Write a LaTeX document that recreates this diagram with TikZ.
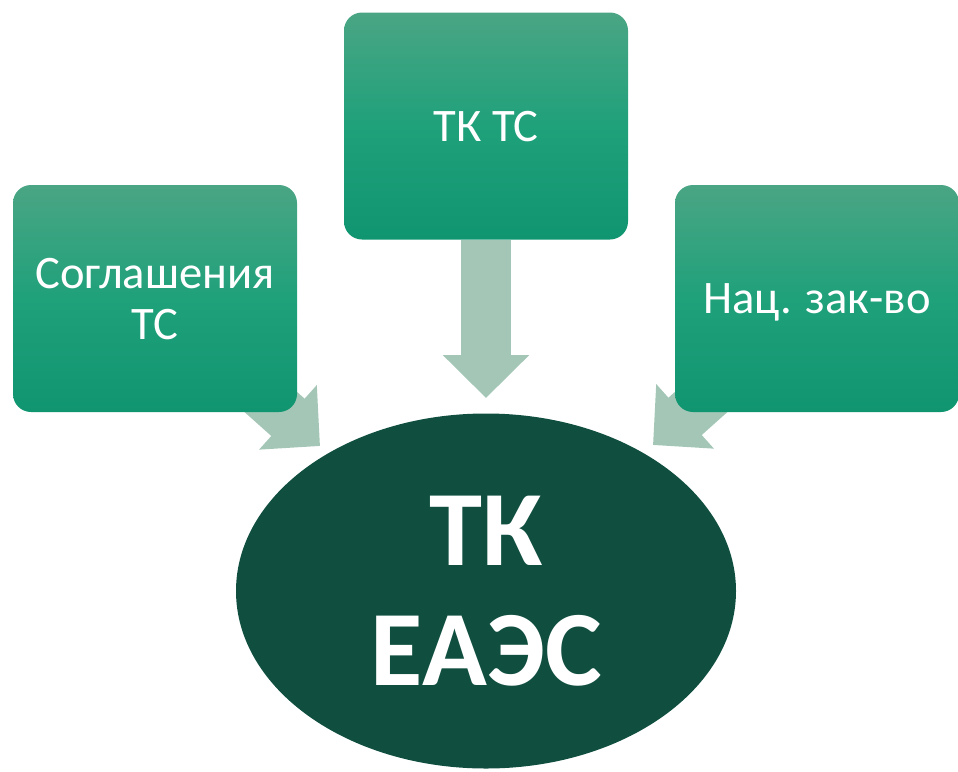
\documentclass[tikz,border=0pt]{standalone}
\usepackage{fontspec}
\setmainfont{Carlito}
\usetikzlibrary{shapes.geometric,arrows.meta,backgrounds}
\definecolor{boxtop}{RGB}{74,165,132}
\definecolor{boxmid}{RGB}{31,161,122}
\definecolor{boxbot}{RGB}{16,149,113}
\definecolor{eaesgreen}{RGB}{16,79,63}
\definecolor{arrowgreen}{RGB}{163,198,182}
\begin{document}
\begin{tikzpicture}[x=0.5pt,y=-0.5pt,
 srcbox/.style={rectangle,rounded corners=9pt,minimum width=142pt,minimum height=113.5pt,
  inner sep=0pt,text depth=0pt,top color=boxtop,bottom color=boxbot,middle color=boxmid,
  text=white,align=center,font=\fontsize{23.3}{25.5}\selectfont},
 blockarrow/.style={line width=25pt,draw=arrowgreen,-{Triangle[width=42pt,length=21.5pt]}}]
 \useasboundingbox (0,0) rectangle (958,771);
 \node[srcbox] (sogl) at (155,298.5) {Соглашения\\ТС};
 \node[srcbox] (tktc) at (486,126) {ТК ТС};
 \node[srcbox] (nats) at (817,298.5) {Нац. зак-во};
 \node[ellipse,fill=eaesgreen,minimum width=250pt,minimum height=177.5pt,inner sep=0pt,
  text=white,align=center,font=\bfseries\fontsize{53.5}{60}\selectfont] (tkeaes) at (486,591) {ТК\\ЕАЭС};
 \coordinate (tipL) at (320,446);
 \coordinate (tipC) at (486,398);
 \coordinate (tipR) at (653,445);
 \begin{scope}[on background layer]
  \draw[blockarrow] (sogl.center) -- (tipL);
  \draw[blockarrow] (tktc.south) -- (tipC);
  \draw[blockarrow] (nats.center) -- (tipR);
 \end{scope}
\end{tikzpicture}
\end{document}
